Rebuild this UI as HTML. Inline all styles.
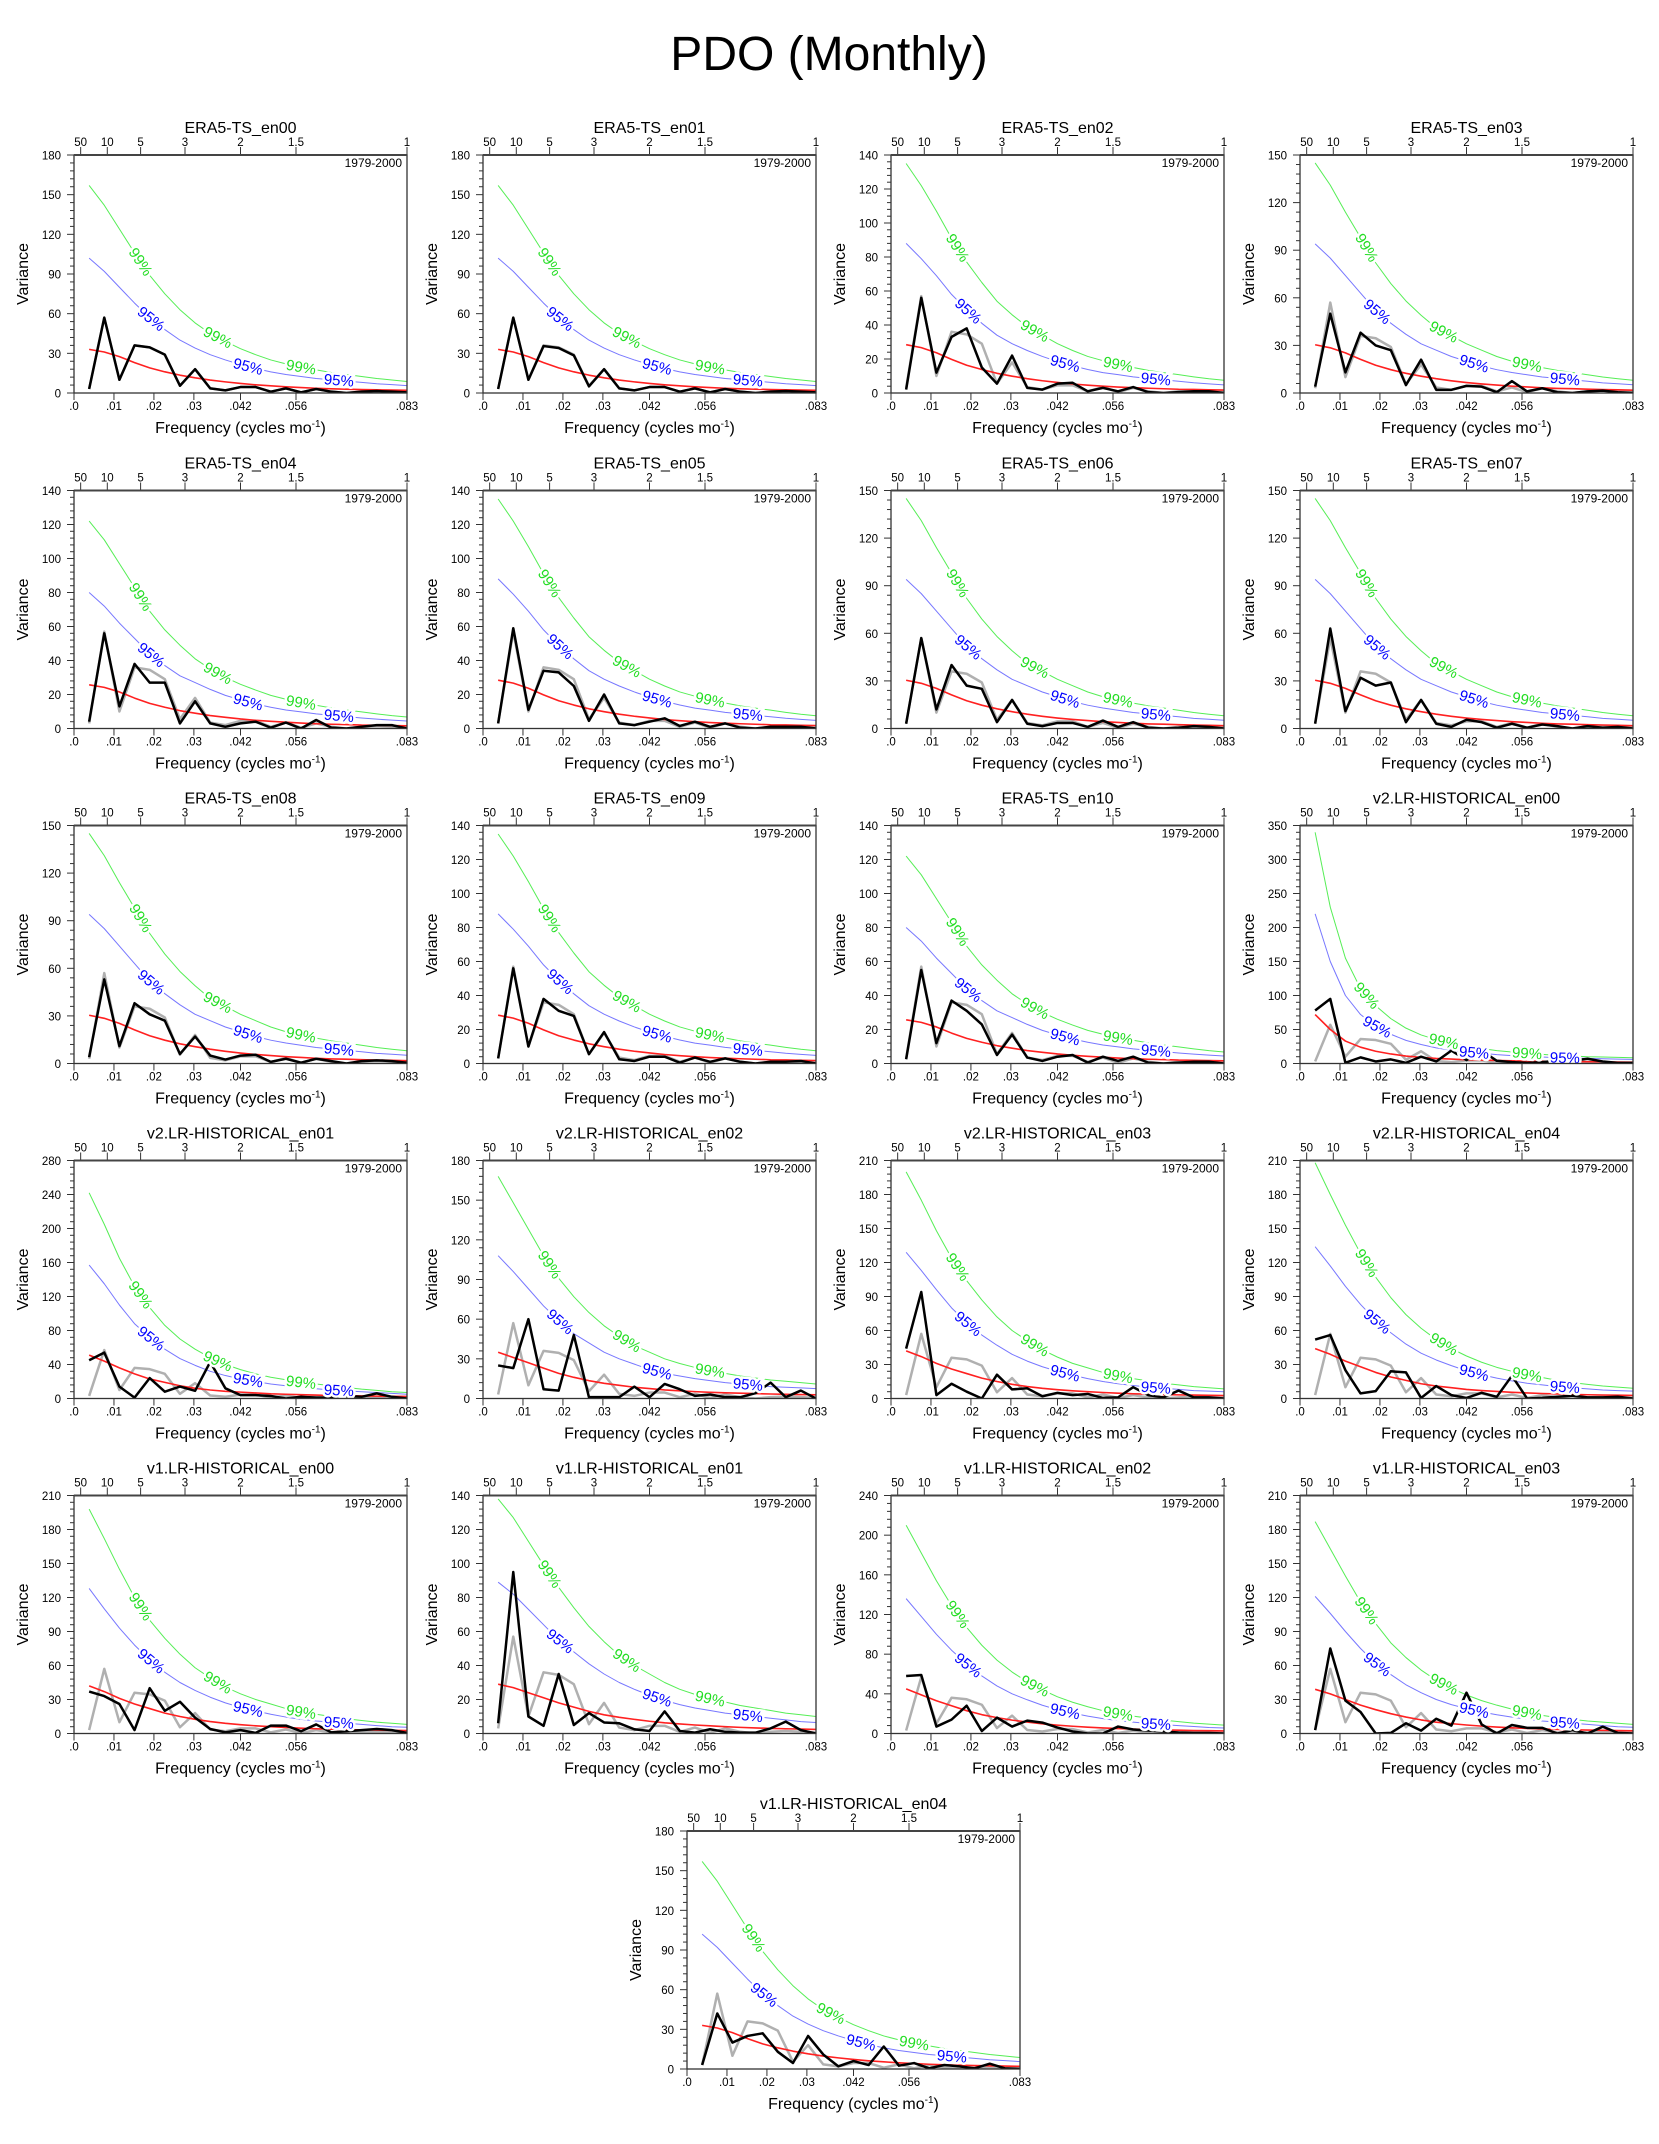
<!DOCTYPE html>
<html><head><meta charset="utf-8"><title>PDO (Monthly)</title>
<style>
html,body{margin:0;padding:0;background:#fff;}
svg{display:block;font-family:"Liberation Sans",Arial,sans-serif;}
</style></head>
<body>
<svg id="fig" width="1659" height="2144" viewBox="0 0 1659 2144" xmlns="http://www.w3.org/2000/svg">
<rect width="1659" height="2144" fill="#fff"/>
<text x="829" y="70" text-anchor="middle" font-size="48">PDO (Monthly)</text>
</svg>
<script>
// ---------- data ----------
const grayRef = [3,57,10,36,34.5,29,5.5,18,3.5,2,4.5,4.5,1,3.5,0.5,3,1,0,1,1.5,1,0.5];

const red100 = [33,31,27.5,23,19,16,13.5,11.5,9.8,8.4,7.2,6.2,5.4,4.7,4.1,3.6,3.2,2.9,2.6,2.4,2.2,2.0];
const blue100 = [102,92,80,68,57,48,40,34,29,25,21.5,18.5,16,14,12.5,11,10,9,8,7,6.3,5.6];
const green100 = [157,142,124,106,89,75,63,53,45,39,33.5,29,25,22,19.5,17.5,15.5,14,12.5,11,9.8,8.7];
const red92 = [30.4,28.5,25.3,21.2,17.5,14.7,12.4,10.6,9,7.7,6.6,5.7,5,4.3,3.8,3.3,2.9,2.7,2.4,2.2,2,1.8];
const blue92 = [94,85,74,63,52,44,37,31,27,23,20,17,14.7,12.9,11.5,10.1,9.2,8.3,7.4,6.4,5.8,5.2];
const green92 = [145,131,114,98,82,69,58,49,41,36,31,27,23,20,18,16,14.3,12.9,11.5,10.1,9,8];
const red86 = [28.4,26.7,23.7,19.8,16.3,13.8,11.6,9.9,8.4,7.2,6.2,5.3,4.6,4,3.5,3.1,2.8,2.5,2.2,2.1,1.9,1.7];
const blue86 = [88,79,69,58,49,41,34,29,25,21.5,18.5,16,13.8,12,10.8,9.5,8.6,7.7,6.9,6,5.4,4.8];
const green86 = [135,122,107,91,77,65,54,46,39,34,29,25,21.5,19,16.8,15,13.3,12,10.8,9.5,8.4,7.5];
const red78 = [25.7,24.2,21.5,17.9,14.8,12.5,10.5,9,7.6,6.6,5.6,4.8,4.2,3.7,3.2,2.8,2.5,2.3,2,1.9,1.7,1.6];
const blue78 = [80,72,62,53,44,37,31,27,23,19.5,16.8,14.4,12.5,10.9,9.8,8.6,7.8,7,6.2,5.5,4.9,4.4];
const green78 = [122,111,97,83,69,58,49,41,35,30,26,22.6,19.5,17.2,15.2,13.7,12.1,10.9,9.8,8.6,7.6,6.8];

const blackEra00 = [3,57,10,36,34.5,29,5.5,18,3.5,2,4.5,4.5,1,3.5,0.5,3,1,0,1,1.5,1,0.5];
const blackEra01 = [3,57,10,35.5,34,28.5,5,18,3.5,2,4.5,4.5,1,3.5,0.5,3,1,0,1,1.5,1,0.5];
const blackEra02 = [2,56,12,33,38,15,5.5,22,3,2,5.5,6,1,3,1,3.5,0.5,0,0.5,1,1,0];
const blackEra03 = [4,50,13,38,30,27,5,21,2,2,4.5,4,0.5,7.5,1,3,0.5,0,1,1.5,0.5,0];
const blackEra04 = [4,56,13,38,27,27,3,16,3,1,3,4,0.5,3.5,0,5,0.5,0,1,2,2,0];
const blackEra05 = [3,59,11,34,33,25,4.5,20,3,2,4,6,1.5,4,1,3,0.5,0,1,1,1,0];
const blackEra06 = [3,57,12,40,27,25,4,18,3,1.5,3.5,3.5,1,5,1,4,0.5,0,0.5,1.5,1,0];
const blackEra07 = [3,63,11,32,27,29,4,18,3,1,5.5,4,0.5,3,0.5,2.5,1.5,0,1.5,0.5,1,0];
const blackEra08 = [4,53,11,38,31,27,6,17,5,2.5,5,5.5,1,3,0.5,3,1.5,0,1.5,2,1.5,0.5];
const blackEra09 = [3,56,10,38,31,28,5.5,18.5,2.5,1.5,4,4,0.5,3.5,1,3,1,0,1,1,1.5,0];
const blackEra10 = [2.5,55,12,37,31,23,5,17,3.5,1.5,4,5,0.5,4,1.5,4,0.5,0,0.5,1,1,0];

const blackV2en00 = [78,95,1,9,3,6,1,10,3,19,5,19,4,2,1,2,4,4,7,3,1,1];
const redV2en00 = [72,50,33,24,18,14,11,9,7.5,6.5,5.5,5,4.5,4,3.5,3.2,3,2.8,2.6,2.4,2.2,2];
const blueV2en00 = [220,150,100,72,55,43,34,28,23,19.5,17,15,13,11.5,10.5,9.5,8.5,8,7.5,7,6.5,6];
const greenV2en00 = [340,230,155,110,85,66,52,42,35,30,26,22,19,17,15,13.5,12,11,10,9.5,9,8.5];

const blackV2en01 = [45,54,14,1,24,8,14,9,43,12,4,4,3,0,2,1,1,3,2,6,2,0];
const redV2en01 = [51,44,36,29,23,19,15,12,10,8.5,7.5,6.5,5.5,5,4.5,4,3.5,3.2,3,2.8,2.6,2.5];
const blueV2en01 = [157,135,110,88,72,58,47,39,32,27,23,20,17,15,13,11.5,10,9,8,7,6,5];
const greenV2en01 = [242,205,165,132,107,86,70,58,48,40,34,29,25,22,19,17,15,13,11,9.5,8,7];

const blackV2en02 = [25,23,60,7,6,48,1,1,1,9,1,11,7,2,3,1,1,4,12,1,6,0];
const redV2en02 = [35,31,27,23,19,16,13.5,11.5,10,8.5,7.5,6.5,5.8,5.2,4.7,4.3,4,3.7,3.4,3.2,3,2.8];
const blueV2en02 = [108,96,83,70,59,49,42,35,30,26,22,19,17,15,13.5,12,11,10,9,8.5,8,7.5];
const greenV2en02 = [168,148,128,108,91,77,65,55,47,40,35,30,26.5,23.5,21,19,17,15.5,14,13,12,11];

const blackV2en03 = [44,94,3,13,6,0,21,8,9,2,5,3,4,0.5,1,10,3,1,7,1,1,0];
const redV2en03 = [42,37,31,26,22,18,15,12.5,10.5,9,7.8,6.8,6,5.3,4.7,4.2,3.8,3.5,3.2,3,2.8,2.6];
const blueV2en03 = [129,113,96,80,67,56,47,39,33,28,24,20.5,17.5,15,13,11.5,10,9,8,7,6.5,6];
const greenV2en03 = [200,175,148,124,104,87,72,60,51,43,36.5,31,27,23,20,17.5,15.5,13.5,12,10.5,9.5,8.5];

const blackV2en04 = [52,56,25,4.5,6.5,24,23,0.5,11,3,0.5,5,1.5,20,0,0.5,1.5,2.5,1,1,1.5,0];
const redV2en04 = [44,39,33,28,23,19,16,13,11,9.5,8,7,6.2,5.5,4.9,4.4,4,3.6,3.3,3.1,2.9,2.7];
const blueV2en04 = [134,117,99,83,69,58,48,40,34,29,24.5,21,18,15.5,13.5,12,10.5,9.5,8.5,7.5,7,6.5];
const greenV2en04 = [208,180,153,128,107,89,74,62,52,44,37.5,32,27.5,24,21,18.5,16,14,12.5,11,10,9];

const blackV1en00 = [37,33,26,3,40,20,28,14,4,1,3,0.5,7,7,2,8,1,2,3,4,3,0.5];
const redV1en00 = [42,37,31,26,22,18,15,12.5,10.5,9,7.8,6.8,6,5.3,4.7,4.2,3.8,3.5,3.2,3,2.8,2.6];
const blueV1en00 = [128,110,93,78,65,54,45,38,32,27,23,20,17,14.5,12.5,11,10,9,8,7,6,5.5];
const greenV1en00 = [198,172,145,120,100,84,70,58,49,41,35,30,26,22,19,17,15,13,11.5,10,9,8];

const blackV1en01 = [6,95,10,4.5,35,5,12,6.5,6,2.5,1.5,13,1.5,0.5,2.5,1,0.5,0.5,3,7,2,0];
const redV1en01 = [29,27,24,21,18,15.5,13,11,9.5,8.3,7.2,6.3,5.6,5,4.5,4,3.6,3.3,3,2.8,2.6,2.4];
const blueV1en01 = [89,82,73,64,55,48,41,35,30,26,22.5,19.5,17,15,13.5,12,11,10,9,8,7,6.5];
const greenV1en01 = [138,127,113,99,86,74,63,54,46,40,35,30,26,23,20.5,18.5,16.5,15,13.5,12,11,10];

const blackV1en02 = [58,59,7,14,28,2.5,16,7,13,11,6,2,0,0,7,4,3,2,1,0.5,0.5,0];
const redV1en02 = [45,39,33,28,23,19,16,13.5,11.5,9.8,8.4,7.3,6.4,5.6,5,4.5,4,3.6,3.3,3,2.8,2.6];
const blueV1en02 = [136,118,100,84,70,58,48,40,34,28.5,24,20.5,17.5,15,13,11.5,10,9,8,7,6,5.5];
const greenV1en02 = [210,182,154,129,107,89,74,62,52,44,37,31.5,27,23,20,17.5,15.5,13.5,12,10.5,9.5,8.5];

const blackV1en03 = [3,75,29,19,0,0.5,9,2.5,13,7,36,8,0,7.5,5,5,0,3,0,6,0.5,0];
const redV1en03 = [39,35,30,25,21,17.5,14.5,12,10,8.7,7.5,6.5,5.7,5,4.5,4,3.6,3.3,3,2.8,2.6,2.4];
const blueV1en03 = [121,106,90,75,62,52,43,36,30,25.5,22,19,16.5,14.5,12.5,11,10,9,8,7,6,5.5];
const greenV1en03 = [187,163,139,116,97,80,67,56,47,40,34,29,25,21.5,18.5,16,14,12.5,11,10,9,8];

const blackV1en04 = [3,42,20,25,27,13,4.5,25,11,2,6,3,17,2.5,4.5,0.5,3,2,0.5,4,0.5,0];

const panelTitles = ["ERA5-TS_en00","ERA5-TS_en01","ERA5-TS_en02","ERA5-TS_en03","ERA5-TS_en04","ERA5-TS_en05","ERA5-TS_en06","ERA5-TS_en07","ERA5-TS_en08","ERA5-TS_en09","ERA5-TS_en10","v2.LR-HISTORICAL_en00","v2.LR-HISTORICAL_en01","v2.LR-HISTORICAL_en02","v2.LR-HISTORICAL_en03","v2.LR-HISTORICAL_en04","v1.LR-HISTORICAL_en00","v1.LR-HISTORICAL_en01","v1.LR-HISTORICAL_en02","v1.LR-HISTORICAL_en03","v1.LR-HISTORICAL_en04"];
const yMaxes = [180,180,140,150,140,140,150,150,150,140,140,350,280,180,210,210,210,140,240,210,180];
const yMajors = [30,30,20,30,20,20,30,30,30,20,20,50,40,30,30,30,30,20,40,30,30];
const blackSeries = [blackEra00,blackEra01,blackEra02,blackEra03,blackEra04,blackEra05,blackEra06,blackEra07,blackEra08,blackEra09,blackEra10,blackV2en00,blackV2en01,blackV2en02,blackV2en03,blackV2en04,blackV1en00,blackV1en01,blackV1en02,blackV1en03,blackV1en04];
const redSeries = [red100,red100,red86,red92,red78,red86,red92,red92,red92,red86,red78,redV2en00,redV2en01,redV2en02,redV2en03,redV2en04,redV1en00,redV1en01,redV1en02,redV1en03,red100];
const blueSeries = [blue100,blue100,blue86,blue92,blue78,blue86,blue92,blue92,blue92,blue86,blue78,blueV2en00,blueV2en01,blueV2en02,blueV2en03,blueV2en04,blueV1en00,blueV1en01,blueV1en02,blueV1en03,blue100];
const greenSeries = [green100,green100,green86,green92,green78,green86,green92,green92,green92,green86,green78,greenV2en00,greenV2en01,greenV2en02,greenV2en03,greenV2en04,greenV1en00,greenV1en01,greenV1en02,greenV1en03,green100];

const xTickVals = [0,0.01,0.02,0.03,1/24,1/18,1/12];
const xTickLabels = [".0",".01",".02",".03",".042",".056",".083"];
const periodVals = [50,10,5,3,2,1.5,1];
const periodLabels = ["50","10","5","3","2","1.5","1"];

// ---------- layout ----------
const NS = "http://www.w3.org/2000/svg";
const svg = document.getElementById("fig");
const PW = 333, PH = 238, FMAX = 1/12, NMONTHS = 264;
const colLefts = [74,483,891,1300];
const rowTops = [155,490.5,825.5,1160.5,1495.5,1831];

function el(tag, attrs, parent){
  const e = document.createElementNS(NS, tag);
  for (const k in attrs) e.setAttribute(k, attrs[k]);
  (parent||svg).appendChild(e);
  return e;
}

function drawPanel(p){
  const L = p < 20 ? colLefts[p%4] : 687;
  const T = rowTops[Math.floor(p/4)];
  const ymax = yMaxes[p], step = yMajors[p];
  const xs = f => L + f/FMAX*PW;
  const ys = v => T + PH - v/ymax*PH;
  const g = el("g", {});
  
  

  const cid = "clip"+p;
  const cp = el("clipPath", {id: cid}, g);
  el("rect", {x:L, y:T, width:PW, height:PH}, cp);

  // y ticks
  const minor = step/5;
  for (let v=0; v<=ymax+1e-6; v+=minor){
    const isMaj = Math.abs(v/step - Math.round(v/step)) < 1e-6;
    el("line", {x1:L-(isMaj?7:4), x2:L, y1:ys(v), y2:ys(v), stroke:"#333", "stroke-width":1}, g);
    if (isMaj){
      const t = el("text", {x:L-13, y:ys(v)+4.5, "text-anchor":"end", "font-size":11.5}, g);
      t.textContent = Math.round(v);
      
      
    }
  }
  // bottom x ticks
  xTickVals.forEach((f,i)=>{
    el("line", {x1:xs(f), x2:xs(f), y1:T+PH, y2:T+PH+7, stroke:"#333", "stroke-width":1}, g);
    const t = el("text", {x:xs(f), y:T+PH+17, "text-anchor":"middle", "font-size":11.5}, g);
    t.textContent = xTickLabels[i];
    
    
  });
  // top period ticks
  periodVals.forEach((P,i)=>{
    const f = 1/(12*P);
    el("line", {x1:xs(f), x2:xs(f), y1:T, y2:T-8, stroke:"#333", "stroke-width":1}, g);
    const t = el("text", {x:xs(f), y:T-9, "text-anchor":"middle", "font-size":11.5}, g);
    t.textContent = periodLabels[i];
    
    
  });

  const lg = el("g", {"clip-path":"url(#"+cid+")"}, g);
  function series(arr, color, w, name){
    const pts = arr.map((v,i)=> xs((i+1)/NMONTHS).toFixed(2)+","+ys(v).toFixed(2)).join(" ");
    const pl = el("polyline", {points:pts, fill:"none", stroke:color, "stroke-width":w, "stroke-linejoin":"round"}, lg);
    
    
    return pl;
  }
  series(greenSeries[p], "#55ee55", 1, "ci-99-line");
  series(blueSeries[p], "#7777ff", 1, "ci-95-line");
  series(grayRef, "#b0b0b0", 2.5, "reference-spectrum-line");
  series(redSeries[p], "#ff2020", 1.6, "red-noise-line");
  series(blackSeries[p], "#000", 2.5, "spectrum-line");

  // curve labels
  function curveLabel(arr, k, txt, color){
    const i0 = Math.floor(k)-1, fr = k - Math.floor(k);
    const v = arr[i0] + (arr[i0+1]-arr[i0])*fr;
    const x = xs(k/NMONTHS), y = ys(v);
    const dx = xs((i0+2)/NMONTHS)-xs((i0+1)/NMONTHS);
    const dy = ys(arr[i0+1])-ys(arr[i0]);
    const ang = Math.atan2(dy, dx)*180/Math.PI;
    const t = el("text", {x:x, y:y+5, "text-anchor":"middle", "font-size":15, fill:color,
      stroke:"#fff", "stroke-width":5, "paint-order":"stroke", transform:"rotate("+ang.toFixed(1)+" "+x.toFixed(1)+" "+y.toFixed(1)+")"}, lg);
    t.textContent = txt;
    
    
  }
  [4.4, 9.5, 15].forEach(k=>curveLabel(greenSeries[p], k, "99%", "#22dd22"));
  [5.1, 11.5, 17.5].forEach(k=>curveLabel(blueSeries[p], k, "95%", "#0000ff"));

  // frame
  el("rect", {x:L, y:T, width:PW, height:PH, fill:"none", stroke:"#333", "stroke-width":1.3}, g);
  el("line", {x1:L, x2:L+PW, y1:T, y2:T, stroke:"#444", "stroke-width":2}, g);

  const yr = el("text", {x:L+PW-5, y:T+12, "text-anchor":"end", "font-size":12}, g);
  yr.textContent = "1979-2000";
  
  

  const tt = el("text", {x:L+PW/2, y:T-22, "text-anchor":"middle", "font-size":16}, g);
  tt.textContent = panelTitles[p];
  
  

  const yl = el("text", {x:0, y:0, "text-anchor":"middle", "font-size":16, transform:"translate("+(L-46)+","+(T+PH/2)+") rotate(-90)"}, g);
  yl.textContent = "Variance";
  
  

  const xl = el("text", {x:L+PW/2, y:T+PH+40, "text-anchor":"middle", "font-size":16}, g);
  
  
  xl.appendChild(document.createTextNode("Frequency (cycles mo"));
  const sup = el("tspan", {dy:-6, "font-size":10}, xl);
  sup.textContent = "-1";
  const cl = el("tspan", {dy:6}, xl);
  cl.textContent = ")";
}

for (let p=0; p<panelTitles.length; p++) drawPanel(p);
</script>
</body></html>
